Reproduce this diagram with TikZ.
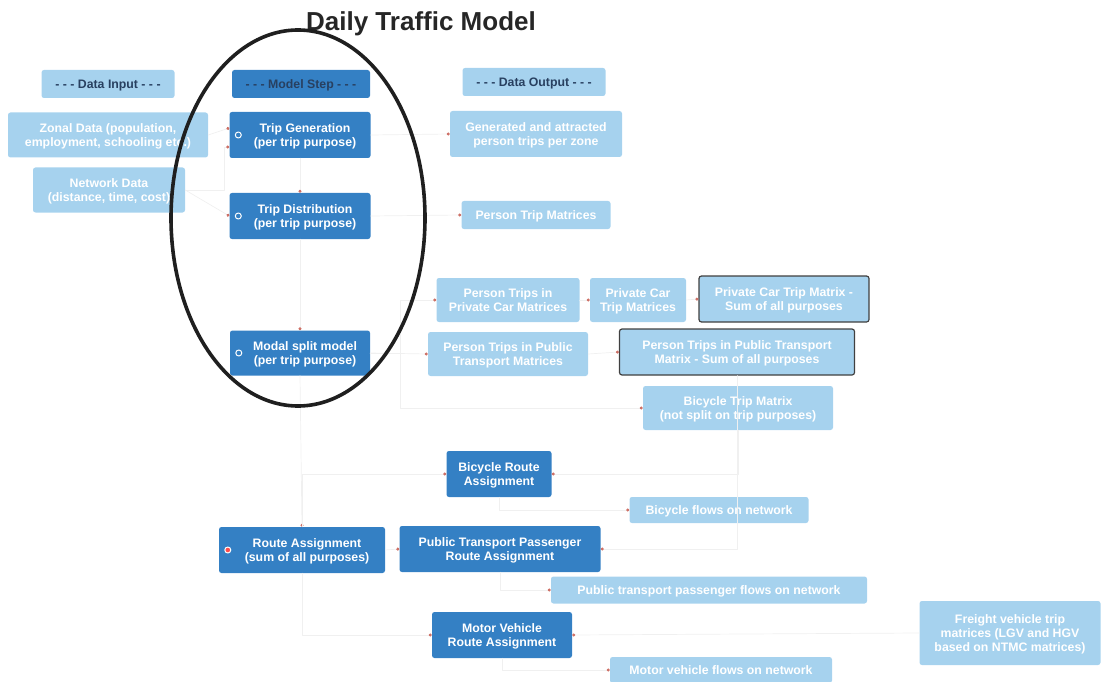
\documentclass[tikz,border=0pt]{standalone}
\usepackage{fontspec}
\setmainfont{Liberation Sans}
\usepackage{tikz}
\usetikzlibrary{arrows.meta, positioning, calc}

\definecolor{stepblue}{RGB}{52,128,196}
\definecolor{lightblue}{RGB}{166,210,238}
\definecolor{headtext}{RGB}{40,64,96}
\definecolor{dotred}{RGB}{205,110,100}

\begin{document}
\begin{tikzpicture}[
  x=1pt, y=-1pt,
  font=\fontsize{12.3}{13.6}\selectfont\bfseries,
  line join=round,
  line cap=round,
  link/.style={draw=black!6, line width=0.7pt,
               -{Circle[length=3pt, color=dotred]}},
  box/.style={
    rounded corners=2.5pt, align=center, inner sep=2pt,
    text depth=0pt
  },
  stepbox/.style={box, fill=stepblue, text=white},
  databox/.style={box, fill=lightblue, text=white},
  sumbox/.style={databox, draw=black!75, line width=1.2pt},
  head/.style={box, fill=lightblue, text=headtext,
               minimum height=28pt},
  fold/.style={circle, draw=white, fill=stepblue, line width=1pt,
               inner sep=0pt, minimum size=6pt}
]
\useasboundingbox (0,0) rectangle (1101,682);
\node[font=\fontsize{26}{28}\selectfont\bfseries, text=black!85] (title)
  at (421,24) {Daily Traffic Model};
%% column headers
\node[head, minimum width=133pt] (hin)  at (108,84) {- - - Data Input - - -};
\node[head, fill=stepblue, minimum width=138pt] (hstep) at (301,84)
  {- - - Model Step - - -};
\node[head, minimum width=143pt] (hout) at (534,82) {- - - Data Output - - -};
%% inputs
\node[databox, minimum width=200pt, minimum height=45pt] (in1) at (108,135)
  {Zonal Data (population,\\employment, schooling etc.)};
\node[databox, minimum width=152pt, minimum height=45pt] (in2) at (109,190)
  {Network Data\\(distance, time, cost)};
%% model steps
\node[stepbox, minimum width=141pt, minimum height=46pt] (gen) at (300,135)
  {\hspace*{10pt}Trip Generation\\\hspace*{10pt}(per trip purpose)};
\node[stepbox, minimum width=141pt, minimum height=46pt] (dist) at (300,216)
  {\hspace*{10pt}Trip Distribution\\\hspace*{10pt}(per trip purpose)};
\node[stepbox, minimum width=140pt, minimum height=45pt] (modal) at (300,353)
  {\hspace*{10pt}Modal split model\\\hspace*{10pt}(per trip purpose)};
%% outputs
\node[databox, minimum width=172pt, minimum height=46pt] (out1) at (536,134)
  {Generated and attracted\\person trips per zone};
\node[databox, minimum width=149pt, minimum height=28pt] (out2) at (536,215)
  {Person Trip Matrices};
\node[databox, minimum width=143pt, minimum height=44pt] (pcar) at (508,300)
  {Person Trips in\\Private Car Matrices};
\node[databox, minimum width=96pt, minimum height=44pt] (pcarm) at (638,300)
  {Private Car\\Trip Matrices};
\node[sumbox, minimum width=170pt, minimum height=46pt] (pcarsum) at (784,299)
  {Private Car Trip Matrix -\\Sum of all purposes};
\node[databox, minimum width=160pt, minimum height=44pt] (ppt) at (508,354)
  {Person Trips in Public\\Transport Matrices};
\node[sumbox, minimum width=235pt, minimum height=46pt] (pptsum) at (737,352)
  {Person Trips in Public Transport\\Matrix - Sum of all purposes};
\node[databox, minimum width=190pt, minimum height=44pt] (bmat) at (738,408)
  {Bicycle Trip Matrix\\(not split on trip purposes)};
%% assignment
\node[stepbox, minimum width=105pt, minimum height=46pt] (bra) at (499,474)
  {Bicycle Route\\Assignment};
\node[databox, minimum width=179pt, minimum height=26pt] (bflow) at (719,510)
  {Bicycle flows on network};
\node[stepbox, minimum width=166pt, minimum height=46pt] (route) at (302,550)
  {\hspace*{10pt}Route Assignment\\\hspace*{10pt}(sum of all purposes)};
\node[stepbox, minimum width=201pt, minimum height=46pt] (pta) at (500,549)
  {Public Transport Passenger\\Route Assignment};
\node[databox, minimum width=316pt, minimum height=27pt] (ptflow) at (709,590)
  {Public transport passenger flows on network};
\node[stepbox, minimum width=140pt, minimum height=46pt] (mva) at (502,635)
  {Motor Vehicle\\Route Assignment};
\node[databox, minimum width=222pt, minimum height=26pt] (mvflow) at (721,670)
  {Motor vehicle flows on network};
\node[databox, minimum width=181pt, minimum height=64pt] (freight) at (1010,633)
  {Freight vehicle trip\\matrices (LGV and HGV\\based on NTMC matrices)};
%% collapse markers
\node[fold] (fgen)   at ($(gen.west)+(9,0)$) {};
\node[fold] (fdist)  at ($(dist.west)+(9,0)$) {};
\node[fold] (fmodal) at ($(modal.west)+(9,0)$) {};
\node[fold, fill=red!70] (froute) at ($(route.west)+(9,0)$) {};
%% faint links
\draw[link] (in1.east) -- ($(gen.west)+(0,-7)$);
\draw[link] (in2.east) -| ($(gen.west)+(-5,12)$) -- ($(gen.west)+(0,12)$);
\draw[link] (in2.east) -- (dist.west);
\draw[link] (gen.south) -- (dist.north);
\draw[link] (gen.east) -- (out1.west);
\draw[link] (dist.east) -- (out2.west);
\draw[link] (dist.south) -- (modal.north);
\draw[link] (modal.east) -- (ppt.west);
\draw[link] (modal.east) -- ++(30,0) |- (pcar.west);
\draw[link] (pcar.east) -- (pcarm.west);
\draw[link] (pcarm.east) -- (pcarsum.west);
\draw[link] (ppt.east) -- (pptsum.west);
\draw[link] (modal.east) -- ++(30,0) |- (bmat.west);
\draw[link] (modal.south) -- (route.north);
\draw[link] (route.north) |- (bra.west);
\draw[link] (route.east) -- (pta.west);
\draw[link] (route.south) |- (mva.west);
\draw[link] (bmat.south) |- (bra.east);
\draw[link] (bra.south) |- (bflow.west);
\draw[link] (pptsum.south) |- (pta.east);
\draw[link] (pta.south) |- (ptflow.west);
\draw[link] (freight.west) -- (mva.east);
\draw[link] (mva.south) |- (mvflow.west);
%% highlight
\draw[line width=3.6pt, black!88] (298,218) ellipse [x radius=127, y radius=188];
\end{tikzpicture}
\end{document}
